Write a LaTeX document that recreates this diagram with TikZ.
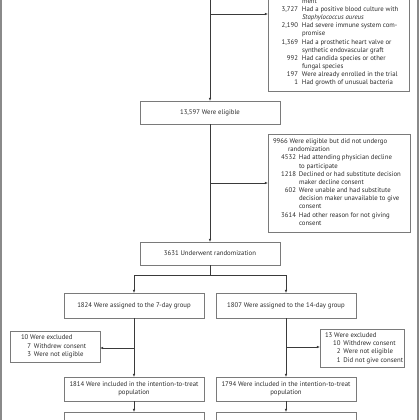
\documentclass[tikz,border=0pt]{standalone}
\usepackage{fontspec}
\setmainfont{PT Sans}
\usetikzlibrary{arrows.meta}
\definecolor{boxc}{HTML}{7A7A7A}
\definecolor{linec}{HTML}{3A3A3A}
\definecolor{txtc}{HTML}{2A2A2A}
\definecolor{framec}{HTML}{8A8A8A}
\newcommand{\fstrut}{\rule[-2.46bp]{0pt}{8.2bp}}
\newcommand{\nmb}[2]{\makebox[#1][r]{#2}\hspace*{3bp}}
\begin{document}
\begin{tikzpicture}[x=1bp,y=-1bp,
  font=\fontsize{6.8}{8.2}\selectfont,
  rect/.style={draw=boxc, line width=0.7bp, inner sep=0pt, outer sep=0pt},
  mainbox/.style={draw=boxc, line width=0.7bp, text=txtc, minimum width=140bp, minimum height=23bp, inner sep=2bp, outer sep=0pt, align=center},
  txt/.style={text=txtc, inner sep=0pt, outer sep=0pt, align=left, anchor=north west},
  arr/.style={draw=linec, line width=0.6bp, -{Latex[length=3.2bp,width=2.6bp]}},
  ln/.style={draw=linec, line width=0.6bp}]
\useasboundingbox (0,0) rectangle (420,420);
\clip (0,0) rectangle (420,420);

% frame lines
\draw[framec, line width=1.2bp] (1,0) -- (1,420);
\draw[framec, line width=1.2bp] (418,0) -- (418,420);

% first exclusion box
\node[rect, minimum width=141bp, minimum height=111bp, anchor=south west] (ex1) at (268,91.5) {};
\node[txt] (ex1t) at (271,-2.5) {\fstrut\hspace*{31bp}ment\\
\makebox[27bp][r]{3,727}\hspace*{4bp}Had a positive blood culture with\\
\hspace*{31bp}\textit{Staphylococcus aureus}\\
\makebox[27bp][r]{2,190}\hspace*{4bp}Had severe immune system com-\\
\hspace*{31bp}promise\\
\makebox[27bp][r]{1,369}\hspace*{4bp}Had a prosthetic heart valve or\\
\hspace*{31bp}synthetic endovascular graft\\
\makebox[27bp][r]{992}\hspace*{4bp}Had candida species or other\\
\hspace*{31bp}fungal species\\
\makebox[27bp][r]{197}\hspace*{4bp}Were already enrolled in the trial\\
\makebox[27bp][r]{1}\hspace*{4bp}Had growth of unusual bacteria\fstrut};

\coordinate (top) at (210,-10);
\coordinate (a1) at (210,14);
\node[mainbox] (elig) at (210,112.5) {13,597 Were eligible};
\draw[arr] (top) -- (elig.north);
\draw[arr] (a1) -- (a1 -| ex1.west);

% second exclusion box
\node[rect, minimum width=142bp, minimum height=98bp, anchor=north west] (ex2) at (268,134) {};
\node[txt] (ex2t) at (273,137.8) {\fstrut 9966 Were eligible but did not undergo\\
\hspace*{15bp}randomization\\
\nmb{23bp}{4532}Had attending physician decline\\
\hspace*{26bp}to participate\\
\nmb{23bp}{1218}Declined or had substitute decision\\
\hspace*{26bp}maker decline consent\\
\nmb{23bp}{602}Were unable and had substitute\\
\hspace*{26bp}decision maker unavailable to give\\
\hspace*{26bp}consent\\
\nmb{23bp}{3614}Had other reason for not giving\\
\hspace*{26bp}consent\fstrut};

\coordinate (a2) at (210,183);
\node[mainbox] (rand) at (210,253.5) {3631 Underwent randomization};
\draw[arr] (elig.south) -- (rand.north);
\draw[arr] (a2) -- (a2 -| ex2.west);

% branch
\coordinate (br) at (210,275);
\node[mainbox, minimum height=25bp] (g7) at (134,305.5) {1824 Were assigned to the 7-day group};
\node[mainbox, minimum height=25bp] (g14) at (286,305.5) {1807 Were assigned to the 14-day group};
\draw[ln] (rand.south) -- (br);
\draw[arr] (br) -| (g7.north);
\draw[arr] (br) -| (g14.north);

% left exclusion
\node[rect, minimum width=90bp, minimum height=31bp, anchor=north west] (ex3) at (10,331) {};
\node[txt] (ex3t) at (21,334.1) {\fstrut 10 Were excluded\\
\nmb{10bp}{7}Withdrew consent\\
\nmb{10bp}{3}Were not eligible\fstrut};

% right exclusion
\node[rect, minimum width=84bp, minimum height=38bp, anchor=north west] (ex4) at (320,329.5) {};
\node[txt] (ex4t) at (325,331.8) {\fstrut 13 Were excluded\\
\hspace*{8bp}\nmb{7.5bp}{10}Withdrew consent\\
\hspace*{8bp}\nmb{7.5bp}{2}Were not eligible\\
\hspace*{8bp}\nmb{7.5bp}{1}Did not give consent\fstrut};

% intention to treat
\node[mainbox, minimum height=24bp] (itt7) at (134,389) {1814 Were included in the intention-to-treat\\population};
\node[mainbox, minimum height=24bp] (itt14) at (286,389) {1794 Were included in the intention-to-treat\\population};
\coordinate (a3) at (134,348);
\coordinate (a4) at (286,347);
\draw[arr] (g7.south) -- (itt7.north);
\draw[arr] (g14.south) -- (itt14.north);
\draw[arr] (a3) -- (a3 -| ex3.east);
\draw[arr] (a4) -- (a4 -| ex4.west);

% bottom boxes
\node[mainbox, minimum height=20bp, anchor=north] (bot7) at (134,412) {};
\node[mainbox, minimum height=20bp, anchor=north] (bot14) at (286,412) {};
\draw[arr] (itt7.south) -- (bot7.north);
\draw[arr] (itt14.south) -- (bot14.north);
\end{tikzpicture}
\end{document}
